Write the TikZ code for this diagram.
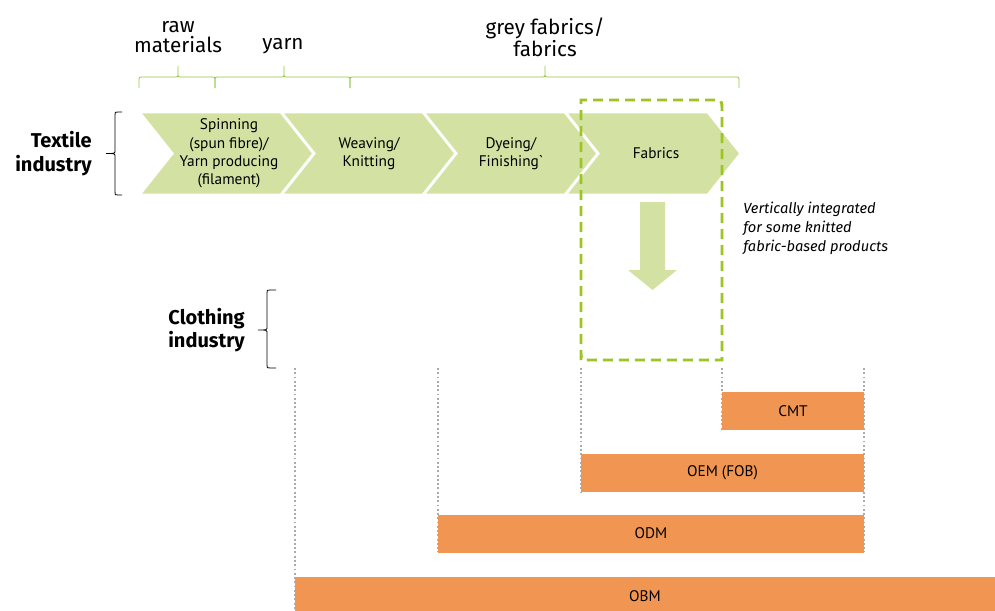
\documentclass[tikz,border=0pt]{standalone}
\usepackage{fontspec}
\setmainfont{PT Sans}
\newfontfamily\labelfont{Fira Sans}

\definecolor{chevgreen}{HTML}{D3E2A2}
\definecolor{dashgreen}{HTML}{9CC423}
\definecolor{bracegreen}{HTML}{8EC63F}
\definecolor{boxorange}{HTML}{F19652}
\definecolor{dotgrey}{HTML}{ABABAB}

\tikzset{
  chev/.style={fill=chevgreen,draw=white,line width=2.2pt,line join=miter},
  steptext/.style={align=center,inner sep=0pt,font=\fontsize{11.5}{13.7}\selectfont},
  toptext/.style={align=center,inner sep=0pt,font=\labelfont\fontsize{15.5}{15}\selectfont},
  sidetext/.style={align=right,inner sep=0pt,font=\labelfont\bfseries\fontsize{15}{17.5}\selectfont},
  bracestyle/.style={line width=0.6pt},
  modelbox/.style={fill=boxorange,inner sep=0pt,font=\fontsize{11.5}{12}\selectfont},
  gridline/.style={draw=dotgrey,line width=1.4pt,dash pattern=on 1.4pt off 1.8pt}
}

% green brace above the chain: left end, peak, right end
\newcommand\valuebrace[3]{%
  \draw[bracestyle,bracegreen] (#1,88) -- (#1,81) .. controls (#1,77) .. (#1+4,77)
    -- (#2-4,77) .. controls (#2,77) .. (#2,73) -- (#2,66)
    (#2,73) .. controls (#2,77) .. (#2+4,77)
    -- (#3-4,77) .. controls (#3,77) .. (#3,81) -- (#3,88);}
% black brace on the left: x of ticks, x of line, x of tip, top, middle, bottom
\newcommand\sidebrace[6]{%
  \draw[bracestyle] (#1,#4) -- (#2+3,#4) .. controls (#2,#4) .. (#2,#4+3)
    -- (#2,#5-3) .. controls (#2,#5) .. (#3,#5)
    .. controls (#2,#5) .. (#2,#5+3)
    -- (#2,#6-3) .. controls (#2,#6) .. (#2+3,#6) -- (#1,#6);}

\begin{document}
\begin{tikzpicture}[x=0.75pt,y=-0.75pt]
\useasboundingbox (0,0) rectangle (995,610);

% value chain
\foreach \x in {139,281,423,565}
  \draw[chev] (\x,112) -- (\x+143,112) -- (\x+176,153.5) -- (\x+143,195) -- (\x,195) -- (\x+33,153.5) -- cycle;

\node[steptext] (spin) at (229,153.5) {Spinning\\(spun fibre)/\\Yarn producing\\(filament)};
\node[steptext] (weave) at (369,153.5) {Weaving/\\Knitting};
\node[steptext] (dye) at (511,153.5) {Dyeing/\\Finishing\textasciigrave};
\node[steptext] (fab) at (656,153.5) {Fabrics};

% top braces
\valuebrace{139}{178}{215}
\valuebrace{215}{284}{350}
\valuebrace{350}{545}{739}
\node[toptext] (raw) at (178,37) {raw\\materials};
\node[toptext] (yarn) at (283,46) {yarn};
\node[toptext] (grey) at (545,37) {grey fabrics/\\fabrics};

% side braces
\sidebrace{122}{115}{106}{112}{153.5}{195}
\node[sidetext,anchor=east] (textile) at (92,153.5) {Textile\\industry};
\sidebrace{276}{267}{258}{290}{330}{368}
\node[sidetext,anchor=east] (clothing) at (245,330) {Clothing\\industry};

% vertical integration
\draw[dashgreen,line width=2.2pt,dash pattern=on 7.5pt off 4.5pt]
  (581,360) -- (581,100) -- (712,100) .. controls (722,100) .. (722,110)
  -- (722,360) -- (591,360) .. controls (581,360) .. (581,350);
\fill[chevgreen] (640,202) -- (665,202) -- (665,270) -- (677,270) -- (652.5,290) -- (628,270) -- (640,270) -- cycle;
\node[align=left,anchor=north west,inner sep=0pt,font=\labelfont\itshape\fontsize{11}{14}\selectfont] (note) at (743,202)
  {Vertically integrated\\for some knitted\\fabric-based products};

% business models
\draw[gridline] (295,368) -- (295,610);
\draw[gridline] (438,368) -- (438,552);
\draw[gridline] (581,368) -- (581,492);
\draw[gridline] (722,368) -- (722,430);
\draw[gridline] (864,368) -- (864,552);

\node[modelbox,minimum width=106.5pt,minimum height=28.5pt] (cmt) at (793,411) {CMT};
\node[modelbox,minimum width=212.25pt,minimum height=28.5pt] (oem) at (722.5,473) {OEM (FOB)};
\node[modelbox,minimum width=319.5pt,minimum height=28.5pt] (odm) at (651,533.5) {ODM};
\node[modelbox,minimum width=525pt,minimum height=28.5pt] (obm) at (645,596) {OBM};

\end{tikzpicture}
\end{document}
